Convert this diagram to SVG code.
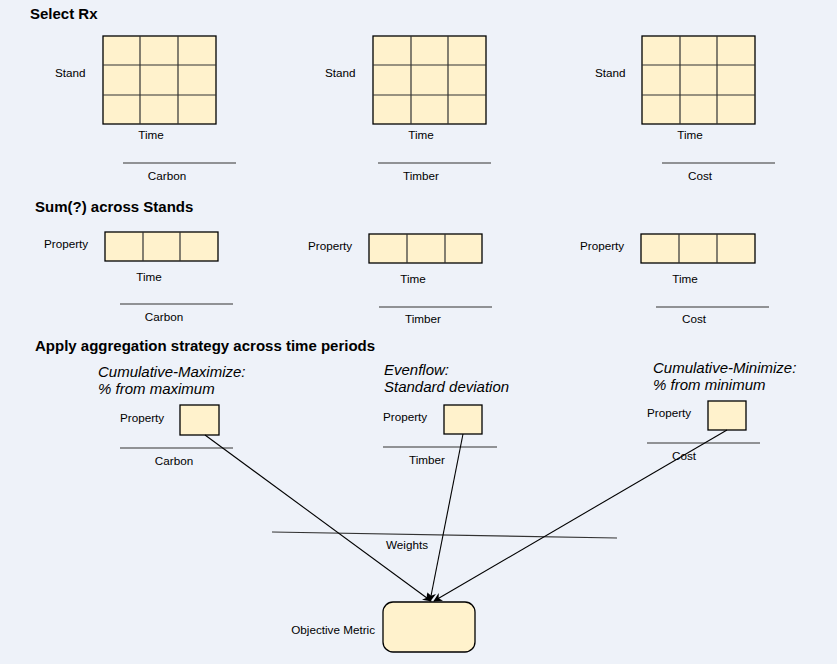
<svg xmlns="http://www.w3.org/2000/svg" width="837" height="664" viewBox="0 0 837 664">
<defs>
<style>
text{font-family:"Liberation Sans",Arial,sans-serif;fill:#000}
.l{font-size:11.7px}
.c{text-anchor:middle}
.h{font-size:15px;font-weight:bold}
.i{font-size:15px;font-style:italic}
.cell{fill:#fff2cc;stroke:#000;stroke-width:1.3}
.rule{stroke:#333;stroke-width:1.2;fill:none}
.conn{stroke:#000;stroke-width:1.1;fill:none;marker-end:url(#ah)}
</style>
<marker id="ah" viewBox="0 0 10 10" refX="9" refY="5" markerWidth="9" markerHeight="9" orient="auto" markerUnits="userSpaceOnUse">
<path d="M0,0 L10,5 L0,10 L3,5 Z" fill="#000"/>
</marker>
</defs>
<rect width="837" height="664" fill="#eef2f9"/>

<text class="h" x="30" y="19">Select Rx</text>
<text class="h" x="35" y="212">Sum(?) across Stands</text>
<text class="h" x="35" y="351">Apply aggregation strategy across time periods</text>

<g id="grid-carbon">
<rect class="cell" x="103" y="36" width="113" height="88"/>
<path class="rule" d="M140,36V124M178,36V124M103,65H216M103,95H216" stroke="#000"/>
<text class="l" x="55" y="77">Stand</text>
<text class="l c" x="151" y="139">Time</text>
<line class="rule" x1="123" y1="163" x2="236" y2="163"/>
<text class="l c" x="167" y="180">Carbon</text>
</g>
<g id="grid-timber">
<rect class="cell" x="373" y="36" width="113" height="88"/>
<path class="rule" d="M411,36V124M448,36V124M373,65H486M373,95H486"/>
<text class="l" x="325" y="77">Stand</text>
<text class="l c" x="421" y="139">Time</text>
<line class="rule" x1="378" y1="163" x2="491" y2="163"/>
<text class="l c" x="421" y="180">Timber</text>
</g>
<g id="grid-cost">
<rect class="cell" x="642" y="36" width="113" height="88"/>
<path class="rule" d="M680,36V124M717,36V124M642,65H755M642,95H755"/>
<text class="l" x="595" y="77">Stand</text>
<text class="l c" x="690" y="139">Time</text>
<line class="rule" x1="662" y1="163" x2="775" y2="163"/>
<text class="l c" x="700" y="180">Cost</text>
</g>

<g id="sum-carbon">
<rect class="cell" x="105" y="232" width="113" height="29"/>
<path class="rule" d="M143,232V261M180,232V261"/>
<text class="l" x="44" y="248">Property</text>
<text class="l c" x="149" y="281">Time</text>
<line class="rule" x1="120" y1="304" x2="233" y2="304"/>
<text class="l c" x="164" y="321">Carbon</text>
</g>
<g id="sum-timber">
<rect class="cell" x="369" y="234" width="113" height="29"/>
<path class="rule" d="M407,234V263M445,234V263"/>
<text class="l" x="308" y="250">Property</text>
<text class="l c" x="413" y="283">Time</text>
<line class="rule" x1="379" y1="307" x2="492" y2="307"/>
<text class="l c" x="423" y="323">Timber</text>
</g>
<g id="sum-cost">
<rect class="cell" x="641" y="234" width="114" height="29"/>
<path class="rule" d="M679,234V263M717,234V263"/>
<text class="l" x="580" y="250">Property</text>
<text class="l c" x="685" y="283">Time</text>
<line class="rule" x1="656" y1="307" x2="769" y2="307"/>
<text class="l c" x="694" y="323">Cost</text>
</g>

<g id="agg-carbon">
<text class="i" x="98" y="377">Cumulative-Maximize:</text>
<text class="i" x="98" y="394">% from maximum</text>
<rect class="cell" x="180" y="405" width="39" height="30"/>
<text class="l" x="120" y="422">Property</text>
<line class="rule" x1="120" y1="448" x2="233" y2="448"/>
<text class="l c" x="174" y="465">Carbon</text>
</g>
<g id="agg-timber">
<text class="i" x="384" y="375">Evenflow:</text>
<text class="i" x="384" y="392">Standard deviation</text>
<rect class="cell" x="444" y="405" width="38" height="29"/>
<text class="l" x="383" y="421">Property</text>
<line class="rule" x1="383" y1="447" x2="497" y2="447"/>
<text class="l c" x="427" y="464">Timber</text>
</g>
<g id="agg-cost">
<text class="i" x="653" y="373">Cumulative-Minimize:</text>
<text class="i" x="653" y="390">% from minimum</text>
<rect class="cell" x="708" y="401" width="38" height="29"/>
<text class="l" x="647" y="417">Property</text>
<line class="rule" x1="647" y1="443" x2="760" y2="443"/>
<text class="l c" x="684" y="460">Cost</text>
</g>

<g id="weights">
<line class="rule" x1="272" y1="532" x2="617" y2="538" stroke="#222"/>
<text class="l c" x="407" y="549">Weights</text>
</g>

<g id="objective">
<rect class="cell" x="383" y="602" width="92" height="50" rx="10"/>
<text class="l" x="375" y="634" text-anchor="end">Objective Metric</text>
</g>

<g id="connectors">
<line class="conn" x1="205" y1="435" x2="431" y2="601"/>
<line class="conn" x1="463" y1="434" x2="430" y2="601"/>
<line class="conn" x1="727" y1="430" x2="434" y2="601"/>
</g>
</svg>
